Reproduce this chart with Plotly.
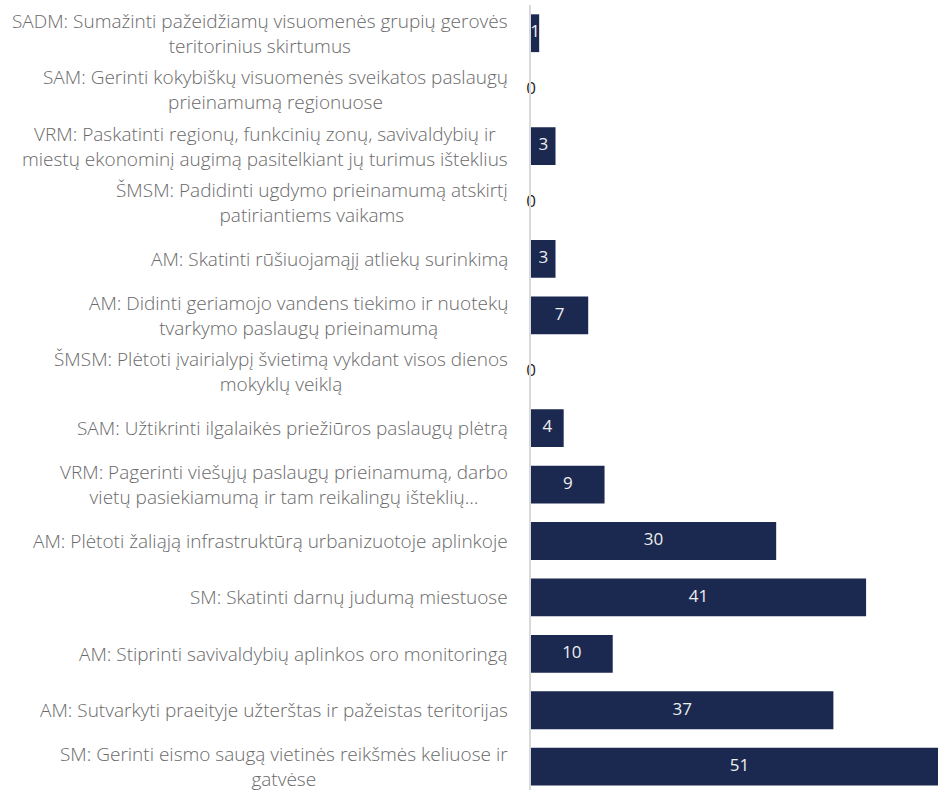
import plotly.graph_objects as go

categories = [
    "SADM: Sumažinti pažeidžiamų visuomenės grupių gerovės<br>teritorinius skirtumus",
    "SAM: Gerinti kokybiškų visuomenės sveikatos paslaugų<br>prieinamumą regionuose",
    "VRM: Paskatinti regionų, funkcinių zonų, savivaldybių ir<br>miestų ekonominį augimą pasitelkiant jų turimus išteklius",
    "ŠMSM: Padidinti ugdymo prieinamumą atskirtį<br>patiriantiems vaikams",
    "AM: Skatinti rūšiuojamąjį atliekų surinkimą",
    "AM: Didinti geriamojo vandens tiekimo ir nuotekų<br>tvarkymo paslaugų prieinamumą",
    "ŠMSM: Plėtoti įvairialypį švietimą vykdant visos dienos<br>mokyklų veiklą",
    "SAM: Užtikrinti ilgalaikės priežiūros paslaugų plėtrą",
    "VRM: Pagerinti viešųjų paslaugų prieinamumą, darbo<br>vietų pasiekiamumą ir tam reikalingų išteklių…",
    "AM: Plėtoti žaliąją infrastruktūrą urbanizuotoje aplinkoje",
    "SM: Skatinti darnų judumą miestuose",
    "AM: Stiprinti savivaldybių aplinkos oro monitoringą",
    "AM: Sutvarkyti praeityje užterštas ir pažeistas teritorijas",
    "SM: Gerinti eismo saugą vietinės reikšmės keliuose ir<br>gatvėse",
]
values = [1, 0, 3, 0, 3, 7, 0, 4, 9, 30, 41, 10, 37, 51]

FONT = "Open Sans, Lato, sans-serif"
BAR = "#1b2951"

idx = list(range(len(categories)))

fig = go.Figure()
fig.add_trace(go.Bar(
    y=idx, x=values, orientation="h",
    marker=dict(color=BAR, line=dict(width=0)),
    hoverinfo="skip", showlegend=False,
))
# value labels: centred on each bar (white), zero values in dark at the axis
fig.add_trace(go.Scatter(
    y=idx, x=[v / 2 for v in values], mode="text",
    text=[str(v) for v in values], textposition="middle center",
    textfont=dict(family=FONT, size=17,
                  color=["#262626" if v == 0 else "#eeeeee" for v in values]),
    cliponaxis=False, hoverinfo="skip", showlegend=False,
))

for i, c in zip(idx, categories):
    fig.add_annotation(
        x=0, y=i, xref="x", yref="y", text=c, showarrow=False,
        xanchor="right", yanchor="middle", align="center", xshift=-21,
        font=dict(family=FONT, size=19, color="#6a6a6a", weight=300),
    )

fig.update_layout(
    width=938, height=790,
    margin=dict(l=531, r=0, t=5, b=0),
    paper_bgcolor="white", plot_bgcolor="white",
    bargap=0.33,
    xaxis=dict(range=[0, 49.8], showgrid=False, zeroline=False,
               showticklabels=False, ticks="", showline=False),
    yaxis=dict(range=[13.413, -0.5], showgrid=False, zeroline=False,
               showticklabels=False, ticks="", showline=True,
               linecolor="#d9d9d9", linewidth=1.5),
)

fig.write_html("out.html", config={"displayModeBar": False},
               post_script="document.body.style.margin='0';document.body.style.overflow='hidden';")
